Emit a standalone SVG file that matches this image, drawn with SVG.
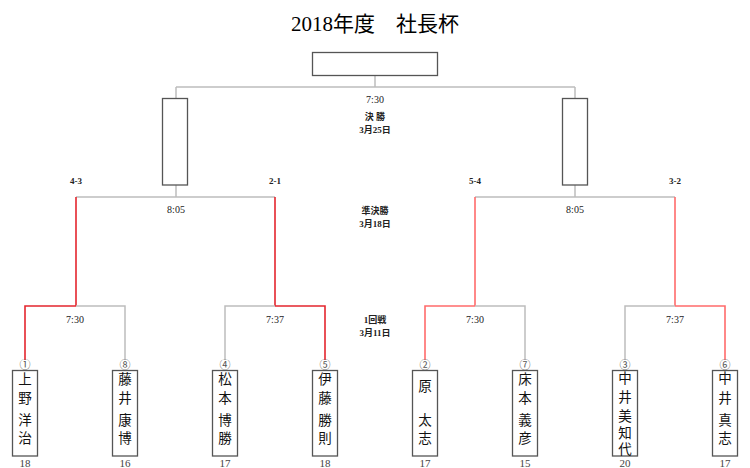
<svg xmlns="http://www.w3.org/2000/svg" width="750" height="468" viewBox="0 0 750 468">
<style>
.bg{fill:#fff}
.box{fill:#fff;stroke:#555;stroke-width:1.3}
.g{fill:none;stroke:#bdbdbd;stroke-width:1.5}
.rl{fill:none;stroke:#e4262e;stroke-width:1.6}
.rr{fill:none;stroke:#ff6b6b;stroke-width:1.6}
.title{font-family:"Liberation Serif","Noto Sans CJK JP",serif;font-size:21px;fill:#000;text-anchor:middle}
.lab{font-family:"Liberation Serif","Noto Sans CJK JP",serif;font-size:9px;font-weight:bold;fill:#222;text-anchor:middle}
.tm{font-family:"Liberation Serif","Noto Sans CJK JP",serif;font-size:10px;fill:#222;text-anchor:middle}
.nm{font-family:"Noto Sans CJK JP",sans-serif;font-size:13.5px;fill:#111;text-anchor:middle}
.num{font-family:"Liberation Serif","Noto Sans CJK JP",serif;font-size:11px;fill:#444;text-anchor:middle}
.seed{font-family:"Noto Sans CJK JP",sans-serif;font-size:11px;fill:#555;text-anchor:middle}
</style>
<rect class="bg" x="0" y="0" width="750" height="468"/>
<text class="title" x="375" y="31">2018年度　社長杯</text>

<g id="connectors">
  <path class="g" d="M375 76V87M176 87H575M176 87V98M575 87V98"/>
  <path class="g" d="M176 185V197M76 197H275M575 185V197M475 197H675"/>
  <path class="rl" d="M76 197V306M275 197V306"/>
  <path class="rr" d="M475 197V306M675 197V306"/>
  <path class="g" d="M76 306H125V360M225 360V306H275"/>
  <path class="rl" d="M76 306H25V360M275 306H325V360"/>
  <path class="g" d="M475 306H525V360M625 360V306H675"/>
  <path class="rr" d="M475 306H425V360M675 306H725V360"/>
</g>

<g id="winner"><rect class="box" x="312.5" y="52.5" width="125" height="23"/></g>
<g id="semi-left"><rect class="box" x="162.5" y="98.5" width="25" height="86.5"/></g>
<g id="semi-right"><rect class="box" x="562.5" y="98.5" width="25" height="86.5"/></g>

<g id="labels">
  <text class="tm" x="375" y="103">7:30</text>
  <text class="lab" x="375" y="120">決 勝</text>
  <text class="lab" x="375" y="133">3月25日</text>
  <text class="lab" x="375" y="214">準決勝</text>
  <text class="lab" x="375" y="227">3月18日</text>
  <text class="lab" x="375" y="323">1回戦</text>
  <text class="lab" x="375" y="336">3月11日</text>
  <text class="lab" x="76" y="184">4-3</text>
  <text class="lab" x="275" y="184">2-1</text>
  <text class="lab" x="475" y="184">5-4</text>
  <text class="lab" x="675" y="184">3-2</text>
  <text class="tm" x="176" y="213">8:05</text>
  <text class="tm" x="575" y="213">8:05</text>
  <text class="tm" x="75" y="323">7:30</text>
  <text class="tm" x="275" y="323">7:37</text>
  <text class="tm" x="475" y="323">7:30</text>
  <text class="tm" x="675" y="323">7:37</text>
</g>

<g id="p1">
  <text class="seed" x="25" y="369">①</text>
  <rect class="box" x="12.5" y="370.5" width="25" height="85.5"/>
  <text class="nm" x="25" y="384">上</text><text class="nm" x="25" y="403">野</text><text class="nm" x="25" y="425">洋</text><text class="nm" x="25" y="443">治</text>
  <text class="num" x="25" y="467">18</text>
</g>
<g id="p8">
  <text class="seed" x="125" y="369">⑧</text>
  <rect class="box" x="112.5" y="370.5" width="25" height="85.5"/>
  <text class="nm" x="125" y="384">藤</text><text class="nm" x="125" y="403">井</text><text class="nm" x="125" y="425">康</text><text class="nm" x="125" y="443">博</text>
  <text class="num" x="125" y="467">16</text>
</g>
<g id="p4">
  <text class="seed" x="225" y="369">④</text>
  <rect class="box" x="212.5" y="370.5" width="25" height="85.5"/>
  <text class="nm" x="225" y="384">松</text><text class="nm" x="225" y="403">本</text><text class="nm" x="225" y="425">博</text><text class="nm" x="225" y="443">勝</text>
  <text class="num" x="225" y="467">17</text>
</g>
<g id="p5">
  <text class="seed" x="325" y="369">⑤</text>
  <rect class="box" x="312.5" y="370.5" width="25" height="85.5"/>
  <text class="nm" x="325" y="384">伊</text><text class="nm" x="325" y="403">藤</text><text class="nm" x="325" y="425">勝</text><text class="nm" x="325" y="443">則</text>
  <text class="num" x="325" y="467">18</text>
</g>
<g id="p2">
  <text class="seed" x="425" y="369">②</text>
  <rect class="box" x="412.5" y="370.5" width="25" height="85.5"/>
  <text class="nm" x="425" y="391">原</text><text class="nm" x="425" y="425">太</text><text class="nm" x="425" y="443">志</text>
  <text class="num" x="425" y="467">17</text>
</g>
<g id="p7">
  <text class="seed" x="525" y="369">⑦</text>
  <rect class="box" x="512.5" y="370.5" width="25" height="85.5"/>
  <text class="nm" x="525" y="384">床</text><text class="nm" x="525" y="403">本</text><text class="nm" x="525" y="425">義</text><text class="nm" x="525" y="443">彦</text>
  <text class="num" x="525" y="467">15</text>
</g>
<g id="p3">
  <text class="seed" x="625" y="369">③</text>
  <rect class="box" x="612.5" y="370.5" width="25" height="85.5"/>
  <text class="nm" x="625" y="383">中</text><text class="nm" x="625" y="402">井</text><text class="nm" x="625" y="421">美</text><text class="nm" x="625" y="438">知</text><text class="nm" x="625" y="454">代</text>
  <text class="num" x="625" y="467">20</text>
</g>
<g id="p6">
  <text class="seed" x="725" y="369">⑥</text>
  <rect class="box" x="712.5" y="370.5" width="25" height="85.5"/>
  <text class="nm" x="725" y="383">中</text><text class="nm" x="725" y="403">井</text><text class="nm" x="725" y="425">真</text><text class="nm" x="725" y="443">志</text>
  <text class="num" x="725" y="467">17</text>
</g>
</svg>
